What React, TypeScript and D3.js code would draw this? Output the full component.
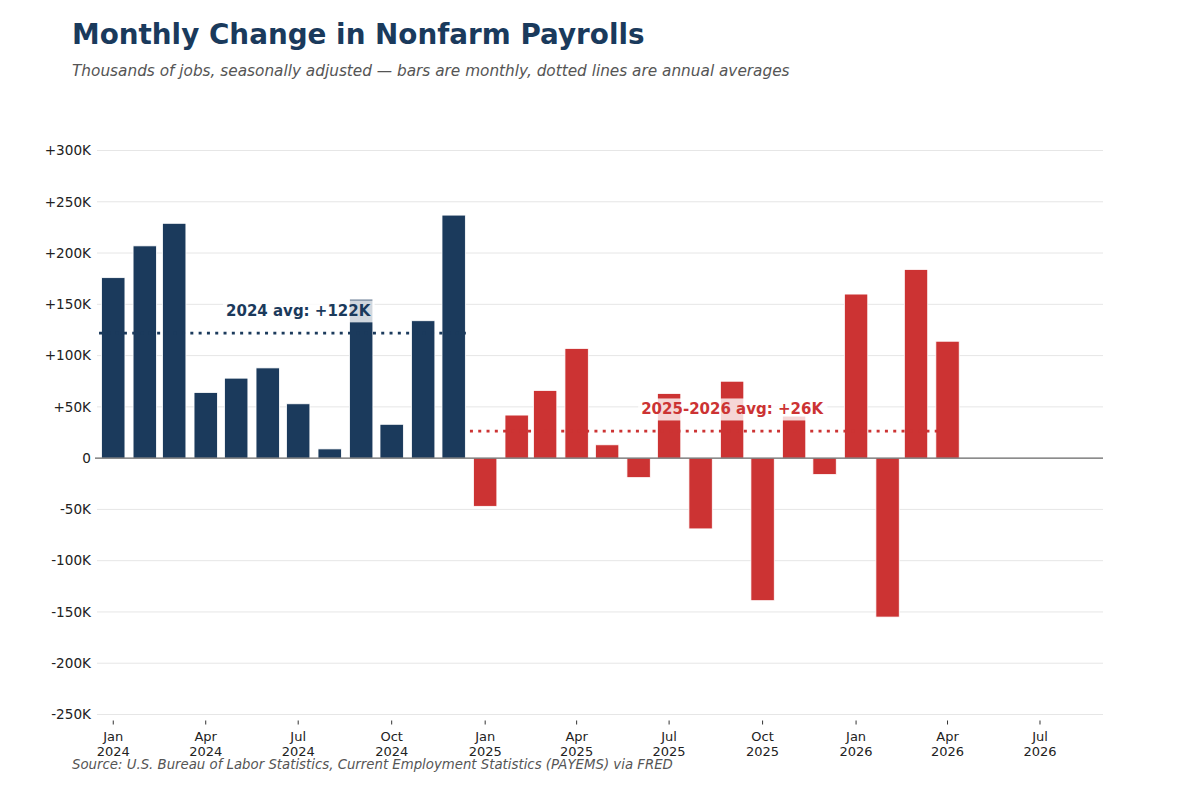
import React, { useEffect, useRef } from 'react';
import * as d3 from 'd3';

const months2024 = ['2024-01', '2024-02', '2024-03', '2024-04', '2024-05', '2024-06', '2024-07', '2024-08', '2024-09', '2024-10', '2024-11', '2024-12'];
const values2024 = [176, 207, 229, 64, 78, 88, 53, 9, 155, 33, 134, 237];

const months2025 = ['2025-01', '2025-02', '2025-03', '2025-04', '2025-05', '2025-06', '2025-07', '2025-08', '2025-09', '2025-10', '2025-11', '2025-12', '2026-01', '2026-02', '2026-03', '2026-04'];
const values2025 = [-47, 42, 66, 107, 13, -19, 63, -69, 75, -139, 41, -16, 160, -155, 184, 114];

const yTicks = [-250, -200, -150, -100, -50, 0, 50, 100, 150, 200, 250, 300];
const xTickMonths = ['2024-01', '2024-04', '2024-07', '2024-10', '2025-01', '2025-04', '2025-07', '2025-10', '2026-01', '2026-04', '2026-07'];

const NAVY = '#1b3a5c';
const RED = '#cc3333';
const FONT = '"DejaVu Sans", sans-serif';

const parse = d3.utcParse('%Y-%m');
const addDays = (d: Date, n: number) => new Date(d.getTime() + n * 86400000);

const App: React.FC = () => {
  const svgRef = useRef<SVGSVGElement>(null);

  useEffect(() => {
    if (!svgRef.current) return;
    const svg = d3.select(svgRef.current);
    svg.selectAll('*').remove();

    const x = d3.scaleUtc()
      .domain([new Date(Date.UTC(2023, 11, 16)), new Date(Date.UTC(2026, 8, 1))])
      .range([97, 1103]);
    const y = d3.scaleLinear().domain([-250, 300]).range([714.5, 150.5]);

    // title block
    svg.append('text')
      .attr('x', 72).attr('y', 44)
      .attr('font-family', FONT).attr('font-size', 27.8).attr('font-weight', 'bold')
      .attr('fill', '#1a3a5c')
      .text('Monthly Change in Nonfarm Payrolls');
    svg.append('text')
      .attr('x', 72).attr('y', 76)
      .attr('font-family', FONT).attr('font-size', 15.3).attr('font-style', 'italic')
      .attr('fill', '#555')
      .text('Thousands of jobs, seasonally adjusted \u2014 bars are monthly, dotted lines are annual averages');

    // grid + y labels
    const fmt = (v: number) => (v === 0 ? '0' : v > 0 ? `+${v}K` : `-${Math.abs(v)}K`);
    svg.append('g').selectAll('line')
      .data(yTicks.filter(t => t !== 0))
      .enter().append('line')
      .attr('x1', 97).attr('x2', 1103)
      .attr('y1', d => y(d)).attr('y2', d => y(d))
      .attr('stroke', '#e6e6e6').attr('stroke-width', 1);
    svg.append('g').selectAll('text')
      .data(yTicks)
      .enter().append('text')
      .attr('x', 91).attr('y', d => y(d)).attr('dy', '0.35em')
      .attr('text-anchor', 'end')
      .attr('font-family', FONT).attr('font-size', 13.6).attr('fill', '#222')
      .text(fmt);

    // bars
    const barW = x(addDays(parse('2024-01')!, 23)) - x(parse('2024-01')!);
    const drawBars = (months: string[], vals: number[], color: string) => {
      svg.append('g').selectAll('rect')
        .data(months.map((m, i) => ({ d: parse(m)!, v: vals[i] })))
        .enter().append('rect')
        .attr('x', d => x(d.d) - barW / 2)
        .attr('width', barW)
        .attr('y', d => y(Math.max(0, d.v)))
        .attr('height', d => Math.abs(y(d.v) - y(0)))
        .attr('fill', color)
        .attr('stroke', 'white').attr('stroke-width', 0.8);
    };
    drawBars(months2024, values2024, NAVY);
    drawBars(months2025, values2025, RED);

    // zero line
    svg.append('line')
      .attr('x1', 95).attr('x2', 1103)
      .attr('y1', y(0)).attr('y2', y(0))
      .attr('stroke', '#666').attr('stroke-width', 1.2);

    // averages
    const avgLine = (start: Date, end: Date, avg: number, color: string, label: string, labelAt: Date) => {
      svg.append('line')
        .attr('x1', x(start)).attr('x2', x(end))
        .attr('y1', y(avg)).attr('y2', y(avg))
        .attr('stroke', color).attr('stroke-width', 2.8)
        .attr('stroke-dasharray', '3,5.3');
      const g = svg.append('g');
      const t = g.append('text')
        .attr('x', x(labelAt)).attr('y', y(avg) - 22).attr('dy', '0.35em')
        .attr('text-anchor', 'middle')
        .attr('font-family', FONT).attr('font-size', 15).attr('font-weight', 'bold')
        .attr('fill', color)
        .text(label);
      const bb = (t.node() as SVGTextElement).getBBox();
      g.insert('rect', 'text')
        .attr('x', bb.x - 3).attr('y', bb.y - 2)
        .attr('width', bb.width + 6).attr('height', bb.height + 4)
        .attr('fill', 'white').attr('fill-opacity', 0.8);
    };
    const avg24 = d3.mean(values2024)!;
    const avg25 = d3.mean(values2025)!;
    avgLine(new Date(Date.UTC(2023, 11, 18)), new Date(Date.UTC(2024, 11, 13)), avg24, NAVY,
      `2024 avg: +${Math.round(avg24)}K`, new Date(Date.UTC(2024, 6, 1)));
    avgLine(new Date(Date.UTC(2024, 11, 17)), new Date(Date.UTC(2026, 2, 26)), avg25, RED,
      `2025-2026 avg: +${Math.round(avg25)}K`, new Date(Date.UTC(2025, 8, 1)));

    // x axis ticks
    const xt = svg.append('g').selectAll('g')
      .data(xTickMonths.map(m => parse(m)!))
      .enter().append('g')
      .attr('transform', d => `translate(${x(d)},0)`);
    xt.append('line').attr('y1', 720.5).attr('y2', 724.5).attr('stroke', '#333').attr('stroke-width', 1);
    xt.append('text').attr('y', 741).attr('text-anchor', 'middle')
      .attr('font-family', FONT).attr('font-size', 13).attr('fill', '#222')
      .text(d => d3.utcFormat('%b')(d));
    xt.append('text').attr('y', 755.5).attr('text-anchor', 'middle')
      .attr('font-family', FONT).attr('font-size', 13).attr('fill', '#222')
      .text(d => d3.utcFormat('%Y')(d));

    svg.append('text')
      .attr('x', 72).attr('y', 768.5)
      .attr('font-family', FONT).attr('font-size', 13.3).attr('font-style', 'italic')
      .attr('fill', '#555')
      .text('Source: U.S. Bureau of Labor Statistics, Current Employment Statistics (PAYEMS) via FRED');
  }, []);

  return (
    <svg
      ref={svgRef}
      width={1200}
      height={800}
      style={{ position: 'absolute', left: 0, top: 0, background: 'white' }}
    />
  );
};

export default App;
